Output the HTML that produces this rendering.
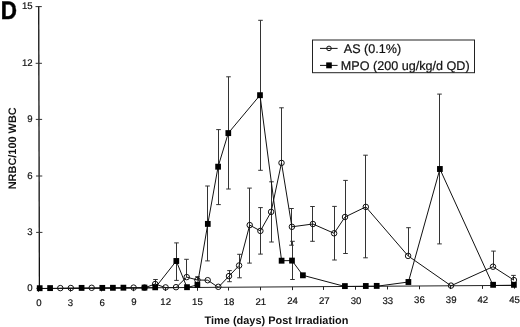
<!DOCTYPE html>
<html><head><meta charset="utf-8"><style>
html,body{margin:0;padding:0;background:#fff;}
body{width:520px;height:327px;overflow:hidden;}
svg{display:block;filter:blur(0.35px);}
text{font-family:"Liberation Sans",sans-serif;text-rendering:geometricPrecision;}
.tk{font-size:9.6px;fill:#111;stroke:#111;stroke-width:0.2px;}
.lg{font-size:12.6px;fill:#111;stroke:#111;stroke-width:0.2px;}
.ttl{font-size:10.95px;font-weight:bold;fill:#111;}
.big{font-size:25.4px;font-weight:bold;fill:#000;}
</style></head><body>
<svg width="520" height="327" viewBox="0 0 520 327">
<line x1="38.7" y1="6.1" x2="39.4" y2="288.5" stroke="#111" stroke-width="1.3"/>
<line x1="35.5" y1="6.6" x2="41.8" y2="6.6" stroke="#333" stroke-width="1"/>
<text x="32.6" y="9.3" text-anchor="end" class="tk">15</text>
<line x1="35.66" y1="63.3" x2="41.96" y2="63.3" stroke="#333" stroke-width="1"/>
<text x="32.6" y="66" text-anchor="end" class="tk">12</text>
<line x1="35.82" y1="119.4" x2="42.12" y2="119.4" stroke="#333" stroke-width="1"/>
<text x="32.6" y="122.1" text-anchor="end" class="tk">9</text>
<line x1="35.98" y1="176" x2="42.28" y2="176" stroke="#333" stroke-width="1"/>
<text x="32.6" y="178.7" text-anchor="end" class="tk">6</text>
<line x1="36.14" y1="232.4" x2="42.44" y2="232.4" stroke="#333" stroke-width="1"/>
<text x="32.6" y="235.1" text-anchor="end" class="tk">3</text>
<line x1="36.3" y1="288.3" x2="42.6" y2="288.3" stroke="#333" stroke-width="1"/>
<text x="32.6" y="291" text-anchor="end" class="tk">0</text>
<line x1="39.4" y1="288.5" x2="514.5" y2="285.35" stroke="#222" stroke-width="1"/>
<line x1="38.5" y1="288.51" x2="38.5" y2="291.81" stroke="#222" stroke-width="1"/>
<text x="38.81" y="306.01" text-anchor="middle" class="tk">0</text>
<line x1="70.5" y1="288.3" x2="70.5" y2="291.6" stroke="#222" stroke-width="1"/>
<text x="70.53" y="305.8" text-anchor="middle" class="tk">3</text>
<line x1="101.5" y1="288.09" x2="101.5" y2="291.39" stroke="#222" stroke-width="1"/>
<text x="102.25" y="305.59" text-anchor="middle" class="tk">6</text>
<line x1="133.5" y1="287.88" x2="133.5" y2="291.18" stroke="#222" stroke-width="1"/>
<text x="133.97" y="305.38" text-anchor="middle" class="tk">9</text>
<line x1="165.5" y1="287.67" x2="165.5" y2="290.97" stroke="#222" stroke-width="1"/>
<text x="165.69" y="305.17" text-anchor="middle" class="tk">12</text>
<line x1="197.5" y1="287.46" x2="197.5" y2="290.76" stroke="#222" stroke-width="1"/>
<text x="197.41" y="304.96" text-anchor="middle" class="tk">15</text>
<line x1="228.5" y1="287.24" x2="228.5" y2="290.54" stroke="#222" stroke-width="1"/>
<text x="229.12" y="304.74" text-anchor="middle" class="tk">18</text>
<line x1="260.5" y1="287.03" x2="260.5" y2="290.33" stroke="#222" stroke-width="1"/>
<text x="260.84" y="304.53" text-anchor="middle" class="tk">21</text>
<line x1="292.5" y1="286.82" x2="292.5" y2="290.12" stroke="#222" stroke-width="1"/>
<text x="292.56" y="304.32" text-anchor="middle" class="tk">24</text>
<line x1="323.5" y1="286.61" x2="323.5" y2="289.91" stroke="#222" stroke-width="1"/>
<text x="324.28" y="304.11" text-anchor="middle" class="tk">27</text>
<line x1="355.5" y1="286.4" x2="355.5" y2="289.7" stroke="#222" stroke-width="1"/>
<text x="356" y="303.9" text-anchor="middle" class="tk">30</text>
<line x1="387.5" y1="286.19" x2="387.5" y2="289.49" stroke="#222" stroke-width="1"/>
<text x="387.72" y="303.69" text-anchor="middle" class="tk">33</text>
<line x1="419.5" y1="285.98" x2="419.5" y2="289.28" stroke="#222" stroke-width="1"/>
<text x="419.44" y="303.48" text-anchor="middle" class="tk">36</text>
<line x1="450.5" y1="285.77" x2="450.5" y2="289.07" stroke="#222" stroke-width="1"/>
<text x="451.16" y="303.27" text-anchor="middle" class="tk">39</text>
<line x1="482.5" y1="285.56" x2="482.5" y2="288.86" stroke="#222" stroke-width="1"/>
<text x="482.88" y="303.06" text-anchor="middle" class="tk">42</text>
<line x1="514.5" y1="285.35" x2="514.5" y2="288.65" stroke="#222" stroke-width="1"/>
<text x="514.6" y="302.85" text-anchor="middle" class="tk">45</text>
<line x1="155.5" y1="279.5" x2="155.5" y2="284" stroke="#333" stroke-width="1.0"/>
<line x1="153.2" y1="279.5" x2="157.8" y2="279.5" stroke="#333" stroke-width="1.0"/>
<line x1="186.5" y1="259.3" x2="186.5" y2="277.1" stroke="#333" stroke-width="1.0"/>
<line x1="184.2" y1="259.3" x2="188.8" y2="259.3" stroke="#333" stroke-width="1.0"/>
<line x1="197.5" y1="276.7" x2="197.5" y2="280" stroke="#333" stroke-width="1.0"/>
<line x1="195.2" y1="276.7" x2="199.8" y2="276.7" stroke="#333" stroke-width="1.0"/>
<line x1="229.5" y1="270.6" x2="229.5" y2="276.1" stroke="#333" stroke-width="1.0"/>
<line x1="227.2" y1="270.6" x2="231.8" y2="270.6" stroke="#333" stroke-width="1.0"/>
<line x1="229.5" y1="276.1" x2="229.5" y2="281.7" stroke="#333" stroke-width="1.0"/>
<line x1="227.2" y1="281.7" x2="231.8" y2="281.7" stroke="#333" stroke-width="1.0"/>
<line x1="239.5" y1="254.3" x2="239.5" y2="265.5" stroke="#333" stroke-width="1.0"/>
<line x1="237.2" y1="254.3" x2="241.8" y2="254.3" stroke="#333" stroke-width="1.0"/>
<line x1="239.5" y1="265.5" x2="239.5" y2="277.8" stroke="#333" stroke-width="1.0"/>
<line x1="237.2" y1="277.8" x2="241.8" y2="277.8" stroke="#333" stroke-width="1.0"/>
<line x1="249.5" y1="188.1" x2="249.5" y2="225.1" stroke="#333" stroke-width="1.0"/>
<line x1="247.2" y1="188.1" x2="251.8" y2="188.1" stroke="#333" stroke-width="1.0"/>
<line x1="249.5" y1="225.1" x2="249.5" y2="263.1" stroke="#333" stroke-width="1.0"/>
<line x1="247.2" y1="263.1" x2="251.8" y2="263.1" stroke="#333" stroke-width="1.0"/>
<line x1="260.5" y1="207.6" x2="260.5" y2="230.9" stroke="#333" stroke-width="1.0"/>
<line x1="258.2" y1="207.6" x2="262.8" y2="207.6" stroke="#333" stroke-width="1.0"/>
<line x1="260.5" y1="230.9" x2="260.5" y2="254.1" stroke="#333" stroke-width="1.0"/>
<line x1="258.2" y1="254.1" x2="262.8" y2="254.1" stroke="#333" stroke-width="1.0"/>
<line x1="271.5" y1="181.8" x2="271.5" y2="211.9" stroke="#333" stroke-width="1.0"/>
<line x1="269.2" y1="181.8" x2="273.8" y2="181.8" stroke="#333" stroke-width="1.0"/>
<line x1="271.5" y1="211.9" x2="271.5" y2="242" stroke="#333" stroke-width="1.0"/>
<line x1="269.2" y1="242" x2="273.8" y2="242" stroke="#333" stroke-width="1.0"/>
<line x1="281.5" y1="107.8" x2="281.5" y2="162.9" stroke="#333" stroke-width="1.0"/>
<line x1="279.2" y1="107.8" x2="283.8" y2="107.8" stroke="#333" stroke-width="1.0"/>
<line x1="291.5" y1="208.5" x2="291.5" y2="226.8" stroke="#333" stroke-width="1.0"/>
<line x1="289.2" y1="208.5" x2="293.8" y2="208.5" stroke="#333" stroke-width="1.0"/>
<line x1="291.5" y1="226.8" x2="291.5" y2="245.2" stroke="#333" stroke-width="1.0"/>
<line x1="289.2" y1="245.2" x2="293.8" y2="245.2" stroke="#333" stroke-width="1.0"/>
<line x1="312.5" y1="206.5" x2="312.5" y2="224" stroke="#333" stroke-width="1.0"/>
<line x1="310.2" y1="206.5" x2="314.8" y2="206.5" stroke="#333" stroke-width="1.0"/>
<line x1="312.5" y1="224" x2="312.5" y2="241.3" stroke="#333" stroke-width="1.0"/>
<line x1="310.2" y1="241.3" x2="314.8" y2="241.3" stroke="#333" stroke-width="1.0"/>
<line x1="334.5" y1="206.4" x2="334.5" y2="233.3" stroke="#333" stroke-width="1.0"/>
<line x1="332.2" y1="206.4" x2="336.8" y2="206.4" stroke="#333" stroke-width="1.0"/>
<line x1="334.5" y1="233.3" x2="334.5" y2="260" stroke="#333" stroke-width="1.0"/>
<line x1="332.2" y1="260" x2="336.8" y2="260" stroke="#333" stroke-width="1.0"/>
<line x1="345.5" y1="180.4" x2="345.5" y2="217" stroke="#333" stroke-width="1.0"/>
<line x1="343.2" y1="180.4" x2="347.8" y2="180.4" stroke="#333" stroke-width="1.0"/>
<line x1="345.5" y1="217" x2="345.5" y2="253.5" stroke="#333" stroke-width="1.0"/>
<line x1="343.2" y1="253.5" x2="347.8" y2="253.5" stroke="#333" stroke-width="1.0"/>
<line x1="365.5" y1="155.2" x2="365.5" y2="206.9" stroke="#333" stroke-width="1.0"/>
<line x1="363.2" y1="155.2" x2="367.8" y2="155.2" stroke="#333" stroke-width="1.0"/>
<line x1="365.5" y1="206.9" x2="365.5" y2="257.8" stroke="#333" stroke-width="1.0"/>
<line x1="363.2" y1="257.8" x2="367.8" y2="257.8" stroke="#333" stroke-width="1.0"/>
<line x1="408.5" y1="227.7" x2="408.5" y2="255.9" stroke="#333" stroke-width="1.0"/>
<line x1="406.2" y1="227.7" x2="410.8" y2="227.7" stroke="#333" stroke-width="1.0"/>
<line x1="493.5" y1="251.1" x2="493.5" y2="266.7" stroke="#333" stroke-width="1.0"/>
<line x1="491.2" y1="251.1" x2="495.8" y2="251.1" stroke="#333" stroke-width="1.0"/>
<line x1="513.5" y1="275.4" x2="513.5" y2="280.1" stroke="#333" stroke-width="1.0"/>
<line x1="511.2" y1="275.4" x2="515.8" y2="275.4" stroke="#333" stroke-width="1.0"/>
<line x1="176.5" y1="242.9" x2="176.5" y2="261" stroke="#333" stroke-width="1.0"/>
<line x1="174.2" y1="242.9" x2="178.8" y2="242.9" stroke="#333" stroke-width="1.0"/>
<line x1="176.5" y1="261" x2="176.5" y2="280.4" stroke="#333" stroke-width="1.0"/>
<line x1="174.2" y1="280.4" x2="178.8" y2="280.4" stroke="#333" stroke-width="1.0"/>
<line x1="207.5" y1="186" x2="207.5" y2="223.9" stroke="#333" stroke-width="1.0"/>
<line x1="205.2" y1="186" x2="209.8" y2="186" stroke="#333" stroke-width="1.0"/>
<line x1="207.5" y1="223.9" x2="207.5" y2="260.9" stroke="#333" stroke-width="1.0"/>
<line x1="205.2" y1="260.9" x2="209.8" y2="260.9" stroke="#333" stroke-width="1.0"/>
<line x1="218.5" y1="129.6" x2="218.5" y2="166.7" stroke="#333" stroke-width="1.0"/>
<line x1="216.2" y1="129.6" x2="220.8" y2="129.6" stroke="#333" stroke-width="1.0"/>
<line x1="218.5" y1="166.7" x2="218.5" y2="204.6" stroke="#333" stroke-width="1.0"/>
<line x1="216.2" y1="204.6" x2="220.8" y2="204.6" stroke="#333" stroke-width="1.0"/>
<line x1="228.5" y1="76.8" x2="228.5" y2="133.1" stroke="#333" stroke-width="1.0"/>
<line x1="226.2" y1="76.8" x2="230.8" y2="76.8" stroke="#333" stroke-width="1.0"/>
<line x1="228.5" y1="133.1" x2="228.5" y2="189" stroke="#333" stroke-width="1.0"/>
<line x1="226.2" y1="189" x2="230.8" y2="189" stroke="#333" stroke-width="1.0"/>
<line x1="260.5" y1="20.3" x2="260.5" y2="95.2" stroke="#333" stroke-width="1.0"/>
<line x1="258.2" y1="20.3" x2="262.8" y2="20.3" stroke="#333" stroke-width="1.0"/>
<line x1="260.5" y1="95.2" x2="260.5" y2="170.3" stroke="#333" stroke-width="1.0"/>
<line x1="258.2" y1="170.3" x2="262.8" y2="170.3" stroke="#333" stroke-width="1.0"/>
<line x1="292.5" y1="241.3" x2="292.5" y2="260.6" stroke="#333" stroke-width="1.0"/>
<line x1="290.2" y1="241.3" x2="294.8" y2="241.3" stroke="#333" stroke-width="1.0"/>
<line x1="292.5" y1="260.6" x2="292.5" y2="279.5" stroke="#333" stroke-width="1.0"/>
<line x1="290.2" y1="279.5" x2="294.8" y2="279.5" stroke="#333" stroke-width="1.0"/>
<line x1="439.5" y1="94.1" x2="439.5" y2="169" stroke="#333" stroke-width="1.0"/>
<line x1="437.2" y1="94.1" x2="441.8" y2="94.1" stroke="#333" stroke-width="1.0"/>
<line x1="439.5" y1="169" x2="439.5" y2="243.9" stroke="#333" stroke-width="1.0"/>
<line x1="437.2" y1="243.9" x2="441.8" y2="243.9" stroke="#333" stroke-width="1.0"/>
<polyline points="60.3,288.36 70.8,288.29 91.7,288.15 133.6,287.88 144.5,287.8 155.2,284 165.6,287.66 176,287.6 186.7,277.1 197.4,280 207.7,280.2 218.3,287.31 229,276.1 239.1,265.5 249.7,225.1 260.4,230.9 271.1,211.9 281.5,162.9 291.9,226.8 312.9,224 334.1,233.3 345,217 365.8,206.9 408.1,255.9 451,285.77 493,266.7 513.9,280.1" fill="none" stroke="#111" stroke-width="1.0" stroke-linejoin="miter"/>
<polyline points="39.7,288.5 50.1,288.43 81.6,288.22 102.3,288.08 112.9,288.01 123.4,287.94 144.5,287.8 155.2,287.73 176.3,261 187,287.52 197.4,284.9 207.8,223.9 218.1,166.7 228.3,133.1 260,95.2 281.6,260.7 292,260.6 302.9,275.3 344.9,286.48 365.8,286.34 376.7,286.26 408.4,282 439.9,169 493.1,285.49 513.9,285.35" fill="none" stroke="#111" stroke-width="1.0" stroke-linejoin="miter"/>
<circle cx="60.3" cy="288.1" r="2.75" fill="none" stroke="#111" stroke-width="1.0"/>
<circle cx="70.8" cy="288" r="2.75" fill="none" stroke="#111" stroke-width="1.0"/>
<circle cx="91.7" cy="287.8" r="2.75" fill="none" stroke="#111" stroke-width="1.0"/>
<circle cx="133.6" cy="287.6" r="2.75" fill="none" stroke="#111" stroke-width="1.0"/>
<circle cx="144.5" cy="287.6" r="2.75" fill="none" stroke="#111" stroke-width="1.0"/>
<circle cx="155.2" cy="284" r="2.75" fill="none" stroke="#111" stroke-width="1.0"/>
<circle cx="165.6" cy="287.4" r="2.75" fill="none" stroke="#111" stroke-width="1.0"/>
<circle cx="176" cy="287.2" r="2.75" fill="none" stroke="#111" stroke-width="1.0"/>
<circle cx="186.7" cy="277.1" r="2.75" fill="none" stroke="#111" stroke-width="1.0"/>
<circle cx="197.4" cy="280" r="2.75" fill="none" stroke="#111" stroke-width="1.0"/>
<circle cx="207.7" cy="280.2" r="2.75" fill="none" stroke="#111" stroke-width="1.0"/>
<circle cx="218.3" cy="286.8" r="2.75" fill="none" stroke="#111" stroke-width="1.0"/>
<circle cx="229" cy="276.1" r="2.75" fill="none" stroke="#111" stroke-width="1.0"/>
<circle cx="239.1" cy="265.5" r="2.75" fill="none" stroke="#111" stroke-width="1.0"/>
<circle cx="249.7" cy="225.1" r="2.75" fill="none" stroke="#111" stroke-width="1.0"/>
<circle cx="260.4" cy="230.9" r="2.75" fill="none" stroke="#111" stroke-width="1.0"/>
<circle cx="271.1" cy="211.9" r="2.75" fill="none" stroke="#111" stroke-width="1.0"/>
<circle cx="281.5" cy="162.9" r="2.75" fill="none" stroke="#111" stroke-width="1.0"/>
<circle cx="291.9" cy="226.8" r="2.75" fill="none" stroke="#111" stroke-width="1.0"/>
<circle cx="312.9" cy="224" r="2.75" fill="none" stroke="#111" stroke-width="1.0"/>
<circle cx="334.1" cy="233.3" r="2.75" fill="none" stroke="#111" stroke-width="1.0"/>
<circle cx="345" cy="217" r="2.75" fill="none" stroke="#111" stroke-width="1.0"/>
<circle cx="365.8" cy="206.9" r="2.75" fill="none" stroke="#111" stroke-width="1.0"/>
<circle cx="408.1" cy="255.9" r="2.75" fill="none" stroke="#111" stroke-width="1.0"/>
<circle cx="451" cy="285.6" r="2.75" fill="none" stroke="#111" stroke-width="1.0"/>
<circle cx="493" cy="266.7" r="2.75" fill="none" stroke="#111" stroke-width="1.0"/>
<circle cx="513.9" cy="280.1" r="2.75" fill="none" stroke="#111" stroke-width="1.0"/>
<rect x="36.85" y="285.25" width="5.7" height="5.9" fill="#000"/>
<rect x="47.25" y="285.15" width="5.7" height="5.9" fill="#000"/>
<rect x="78.75" y="284.95" width="5.7" height="5.9" fill="#000"/>
<rect x="99.45" y="284.95" width="5.7" height="5.9" fill="#000"/>
<rect x="110.05" y="284.85" width="5.7" height="5.9" fill="#000"/>
<rect x="120.55" y="284.75" width="5.7" height="5.9" fill="#000"/>
<rect x="141.65" y="284.65" width="5.7" height="5.9" fill="#000"/>
<rect x="152.35" y="284.35" width="5.7" height="5.9" fill="#000"/>
<rect x="173.45" y="258.05" width="5.7" height="5.9" fill="#000"/>
<rect x="184.15" y="284.25" width="5.7" height="5.9" fill="#000"/>
<rect x="194.55" y="281.95" width="5.7" height="5.9" fill="#000"/>
<rect x="204.95" y="220.95" width="5.7" height="5.9" fill="#000"/>
<rect x="215.25" y="163.75" width="5.7" height="5.9" fill="#000"/>
<rect x="225.45" y="130.15" width="5.7" height="5.9" fill="#000"/>
<rect x="257.15" y="92.25" width="5.7" height="5.9" fill="#000"/>
<rect x="278.75" y="257.75" width="5.7" height="5.9" fill="#000"/>
<rect x="289.15" y="257.65" width="5.7" height="5.9" fill="#000"/>
<rect x="300.05" y="272.35" width="5.7" height="5.9" fill="#000"/>
<rect x="342.05" y="283.15" width="5.7" height="5.9" fill="#000"/>
<rect x="362.95" y="283.05" width="5.7" height="5.9" fill="#000"/>
<rect x="373.85" y="282.95" width="5.7" height="5.9" fill="#000"/>
<rect x="405.55" y="279.05" width="5.7" height="5.9" fill="#000"/>
<rect x="437.05" y="166.05" width="5.7" height="5.9" fill="#000"/>
<rect x="490.25" y="281.85" width="5.7" height="5.9" fill="#000"/>
<rect x="511.05" y="281.85" width="5.7" height="5.9" fill="#000"/>
<rect x="312.5" y="40" width="162" height="32.7" fill="#fff" stroke="#222" stroke-width="1"/>
<line x1="320" y1="48.4" x2="337.6" y2="48.4" stroke="#111" stroke-width="1"/>
<circle cx="329" cy="48.4" r="2.3" fill="none" stroke="#111" stroke-width="1"/>
<line x1="320" y1="65.4" x2="337.6" y2="65.4" stroke="#111" stroke-width="1"/>
<rect x="326.2" y="62.4" width="5.6" height="5.9" fill="#000"/>
<text x="343.8" y="52.5" class="lg">AS (0.1%)</text>
<text x="340.8" y="70.1" class="lg">MPO (200 ug/kg/d QD)</text>
<text x="204.6" y="323.6" class="ttl">Time (days) Post Irradiation</text>
<text transform="translate(15.9 189.3) rotate(-90)" x="0" y="0" class="ttl">NRBC/100 WBC</text>
<text transform="translate(0.8 19.1) scale(0.885 1)" x="0" y="0" class="big" stroke="#000" stroke-width="0.5">D</text>
</svg>
</body></html>
